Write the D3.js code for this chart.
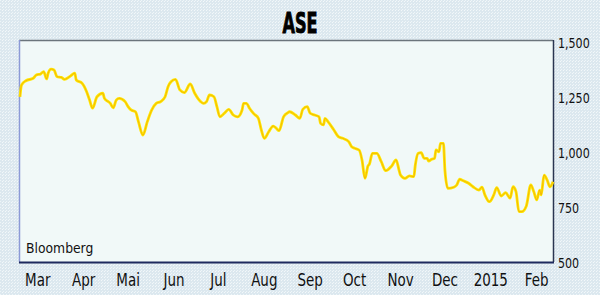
<!DOCTYPE html>
<html>
<head>
<meta charset="utf-8">
<script src="https://cdn.jsdelivr.net/npm/d3@7"></script>
<style>
  body { margin: 0; background: #dfeaf1; }
  svg { display: block; }
</style>
</head>
<body>
<div id="chart"></div>
<script>
// ASE index, Mar 2014 - Feb 2015
var dates = [
  "2014-03-03","2014-03-04","2014-03-07","2014-03-12","2014-03-14","2014-03-17","2014-03-19","2014-03-21","2014-03-22","2014-03-24",
  "2014-03-26","2014-03-28","2014-03-31","2014-04-02","2014-04-06","2014-04-09","2014-04-10","2014-04-14","2014-04-17","2014-04-19",
  "2014-04-21","2014-04-24","2014-04-28","2014-04-29","2014-05-03","2014-05-05","2014-05-07","2014-05-09","2014-05-13","2014-05-15",
  "2014-05-17","2014-05-20","2014-05-22","2014-05-25","2014-05-28","2014-05-31","2014-06-03","2014-06-06","2014-06-09","2014-06-11",
  "2014-06-13","2014-06-16","2014-06-19","2014-06-22","2014-06-26","2014-06-29","2014-07-03","2014-07-05","2014-07-07","2014-07-09",
  "2014-07-12","2014-07-14","2014-07-16","2014-07-19","2014-07-22","2014-07-25","2014-07-28","2014-07-31","2014-08-01","2014-08-03",
  "2014-08-05","2014-08-08","2014-08-11","2014-08-13","2014-08-15","2014-08-18","2014-08-21","2014-08-23","2014-08-25","2014-08-28",
  "2014-08-31","2014-09-01","2014-09-05","2014-09-08","2014-09-10","2014-09-13","2014-09-15","2014-09-18","2014-09-21","2014-09-22",
  "2014-09-24","2014-09-25","2014-09-27","2014-10-01","2014-10-04","2014-10-07","2014-10-11","2014-10-13","2014-10-15","2014-10-18",
  "2014-10-20","2014-10-22","2014-10-24","2014-10-25","2014-10-27","2014-10-30","2014-11-02","2014-11-05","2014-11-09","2014-11-12",
  "2014-11-14","2014-11-15","2014-11-18","2014-11-21","2014-11-24","2014-11-25","2014-11-27","2014-11-29","2014-12-01","2014-12-03",
  "2014-12-04","2014-12-06","2014-12-08","2014-12-09","2014-12-11","2014-12-12","2014-12-14","2014-12-15","2014-12-17","2014-12-21",
  "2014-12-23","2014-12-25","2014-12-27","2014-12-31","2015-01-03","2015-01-07","2015-01-09","2015-01-11","2015-01-14","2015-01-17",
  "2015-01-19","2015-01-22","2015-01-25","2015-01-28","2015-01-30","2015-02-01","2015-02-03","2015-02-05","2015-02-08","2015-02-11",
  "2015-02-13","2015-02-15","2015-02-17","2015-02-18","2015-02-20","2015-02-22","2015-02-24","2015-02-26"
]
var values = [
  1251,1304,1324,1335,1350,1355,1365,1332,1358,1377,
  1373,1342,1339,1330,1345,1358,1327,1312,1274,1236,
  1199,1251,1267,1244,1221,1201,1236,1244,1229,1206,
  1191,1183,1138,1077,1138,1191,1221,1229,1251,1297,
  1319,1330,1282,1270,1309,1267,1229,1221,1229,1259,
  1251,1206,1160,1176,1194,1168,1160,1191,1221,1221,
  1199,1173,1153,1100,1062,1092,1118,1108,1097,1160,
  1179,1183,1168,1153,1194,1206,1176,1168,1160,1130,
  1123,1153,1138,1100,1070,1062,1047,1024,1017,1009,
  964,880,936,945,994,994,956,915,936,964,
  918,895,880,891,888,941,994,997,971,971,
  959,967,971,1009,1001,1039,1039,918,835,840,
  850,876,870,858,842,827,840,805,774,805,
  838,800,815,790,842,820,729,729,755,850,
  820,782,827,805,895,873,842,865
]

var title = "ASE"
var source = "Bloomberg"
var yTicks = [500, 750, 1000, 1250, 1500]
var monthTicks = ["2014-03-15","2014-04-15","2014-05-15","2014-06-15","2014-07-15","2014-08-15",
                  "2014-09-15","2014-10-15","2014-11-15","2014-12-15","2015-01-15","2015-02-15"]
var monthLabels = ["Mar","Apr","Mai","Jun","Jul","Aug","Sep","Oct","Nov","Dec","2015","Feb"]

var W = 600, H = 295
var plot = { left: 19, right: 553, top: 40, bottom: 262 }
var font = "'Liberation Sans Narrow', 'DejaVu Sans Condensed', 'Liberation Sans', sans-serif"

var parse = d3.timeParse("%Y-%m-%d")
var data = dates.map(function (d, i) { return { date: parse(d), value: values[i] } })

var x = d3.scaleTime()
  .domain([parse("2014-03-03"), parse("2015-02-26")])
  .range([plot.left + 1, plot.right])
var y = d3.scaleLinear()
  .domain([500, 1509])
  .range([plot.bottom, plot.top])

var svg = d3.select("#chart").append("svg")
  .attr("width", W)
  .attr("height", H)

// dotted background texture
var defs = svg.append("defs")
var pat = defs.append("pattern")
  .attr("id", "dots")
  .attr("width", 3).attr("height", 3)
  .attr("patternUnits", "userSpaceOnUse")
pat.append("rect").attr("width", 3).attr("height", 3).attr("fill", "#dce8ef")
pat.append("rect").attr("x", 0).attr("y", 0).attr("width", 1).attr("height", 1).attr("fill", "#eef5f8")
pat.append("rect").attr("x", 2).attr("y", 1).attr("width", 1).attr("height", 1).attr("fill", "#f3f8fa")

svg.append("rect")
  .attr("width", W).attr("height", H)
  .attr("fill", "url(#dots)")

// plot area
svg.append("rect")
  .attr("x", plot.left).attr("y", plot.top)
  .attr("width", plot.right - plot.left).attr("height", plot.bottom - plot.top)
  .attr("fill", "#f1f9f8")

svg.append("line") // top
  .attr("x1", plot.left).attr("x2", plot.right)
  .attr("y1", plot.top + 0.5).attr("y2", plot.top + 0.5)
  .attr("stroke", "#6b757c").attr("stroke-width", 1.5)
svg.append("line") // left
  .attr("x1", plot.left + 0.5).attr("x2", plot.left + 0.5)
  .attr("y1", plot.top).attr("y2", plot.bottom)
  .attr("stroke", "#8c9ad6").attr("stroke-width", 1.5)
svg.append("line") // right
  .attr("x1", plot.right + 0.5).attr("x2", plot.right + 0.5)
  .attr("y1", plot.top).attr("y2", plot.bottom)
  .attr("stroke", "#2a3550").attr("stroke-width", 1.5)
svg.append("line") // bottom
  .attr("x1", plot.left).attr("x2", plot.right + 1)
  .attr("y1", plot.bottom + 0.5).attr("y2", plot.bottom + 0.5)
  .attr("stroke", "#1e2a5e").attr("stroke-width", 2)

// title
svg.append("text")
  .attr("x", 300).attr("y", 33)
  .attr("text-anchor", "middle")
  .attr("textLength", 35)
  .attr("lengthAdjust", "spacingAndGlyphs")
  .style("font-family", font)
  .style("font-weight", "bold")
  .style("font-size", "29px")
  .attr("stroke", "#000").attr("stroke-width", 0.9)
  .attr("fill", "#000")
  .text(title)

// y axis labels (right side)
svg.append("g").selectAll("text")
  .data(yTicks)
  .enter().append("text")
  .attr("transform", function (d) { return "translate(558," + (y(d) + 6) + ") scale(0.88,1)" })
  .style("font-family", font)
  .style("font-size", "14px")
  .attr("fill", "#111")
  .text(function (d) { return d3.format(",")(d) })

// month labels
svg.append("g").selectAll("text")
  .data(monthTicks)
  .enter().append("text")
  .attr("transform", function (d) { return "translate(" + x(parse(d)) + ",286) scale(0.88,1)" })
  .attr("text-anchor", "middle")
  .style("font-family", font)
  .style("font-size", "17px")
  .attr("fill", "#111")
  .text(function (d, i) { return monthLabels[i] })

// source
svg.append("text")
  .attr("transform", "translate(26,253) scale(0.95,1)")
  .style("font-family", font)
  .style("font-size", "14.5px")
  .attr("fill", "#111")
  .text(source)

// the index line: yellow body with a thin reddish core
var line = d3.line()
  .x(function (d) { return x(d.date) })
  .y(function (d) { return y(d.value) })
  .curve(d3.curveMonotoneX)

svg.append("path")
  .datum(data)
  .attr("d", line)
  .attr("fill", "none")
  .attr("stroke", "#ffe800")
  .attr("stroke-width", 2.8)
  .attr("stroke-linejoin", "round")

svg.append("path")
  .datum(data)
  .attr("d", line)
  .attr("fill", "none")
  .attr("stroke", "#e0601a")
  .attr("stroke-opacity", 0.45)
  .attr("stroke-width", 0.8)
  .attr("stroke-linejoin", "round")
</script>
</body>
</html>
